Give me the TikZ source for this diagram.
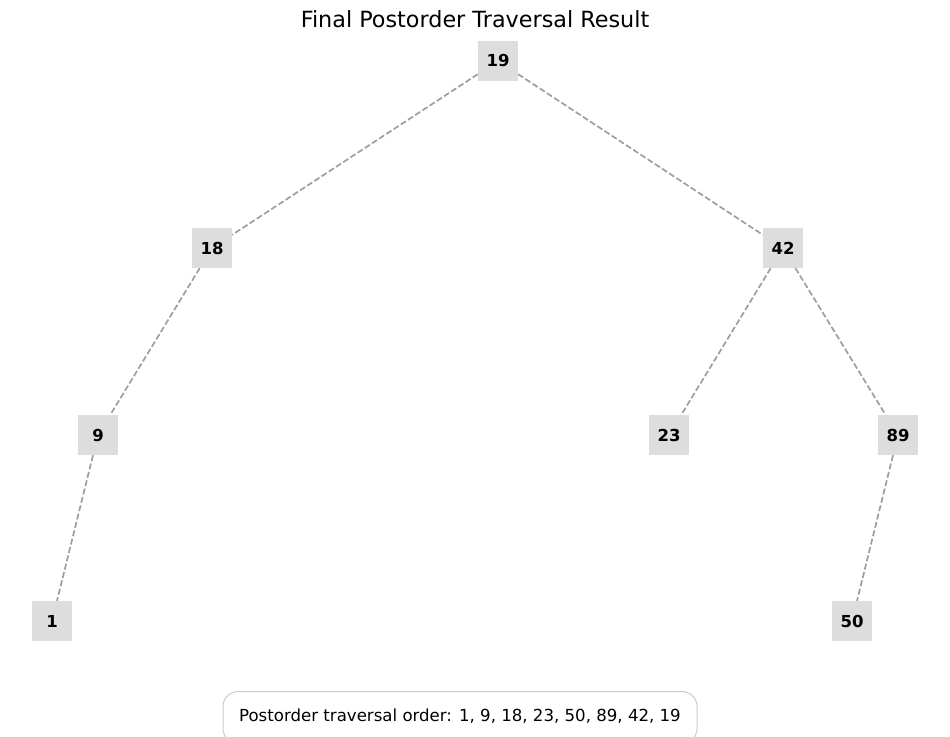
\documentclass[tikz,border=0pt]{standalone}
\usepackage{fontspec}
\setmainfont{DejaVu Sans}
\definecolor{nodefill}{HTML}{DDDDDD}
\definecolor{edgecol}{HTML}{9E9E9E}
\definecolor{boxline}{HTML}{CCCCCC}
\tikzset{
  tnode/.style={fill=nodefill, minimum width=40pt, minimum height=40pt, inner sep=0pt, font=\fontsize{16.5}{19}\selectfont\bfseries},
  tedge/.style={draw=edgecol, line width=1.7pt, dash pattern=on 6pt off 2.6pt},
}
\begin{document}
\begin{tikzpicture}[x=1pt,y=-1pt]
\clip (0,0) rectangle (950,736);
\useasboundingbox (0,0) rectangle (950,736);
\node[font=\fontsize{22.3}{26}\selectfont] (title) at (475,19) {Final Postorder Traversal Result};
\node[tnode] (n19) at (498,61) {19};
\node[tnode] (n18) at (212,248) {18};
\node[tnode] (n42) at (783,248) {42};
\node[tnode] (n9) at (98,435) {9};
\node[tnode] (n23) at (669,435) {23};
\node[tnode] (n89) at (898,435) {89};
\node[tnode] (n1) at (52,621) {1};
\node[tnode] (n50) at (852,621) {50};
\draw[tedge] (n19) -- (n18);
\draw[tedge] (n19) -- (n42);
\draw[tedge] (n18) -- (n9);
\draw[tedge] (n9) -- (n1);
\draw[tedge] (n42) -- (n23);
\draw[tedge] (n42) -- (n89);
\draw[tedge] (n89) -- (n50);
\node[draw=boxline, line width=1pt, rounded corners=15pt, fill=white, minimum width=474pt, minimum height=52pt, anchor=north] (res) at (460,691) {};
\node[font=\fontsize{16.6}{19}\selectfont] (restext) at (460,716) {Postorder traversal order: 1, 9, 18, 23, 50, 89, 42, 19};
\end{tikzpicture}
\end{document}
